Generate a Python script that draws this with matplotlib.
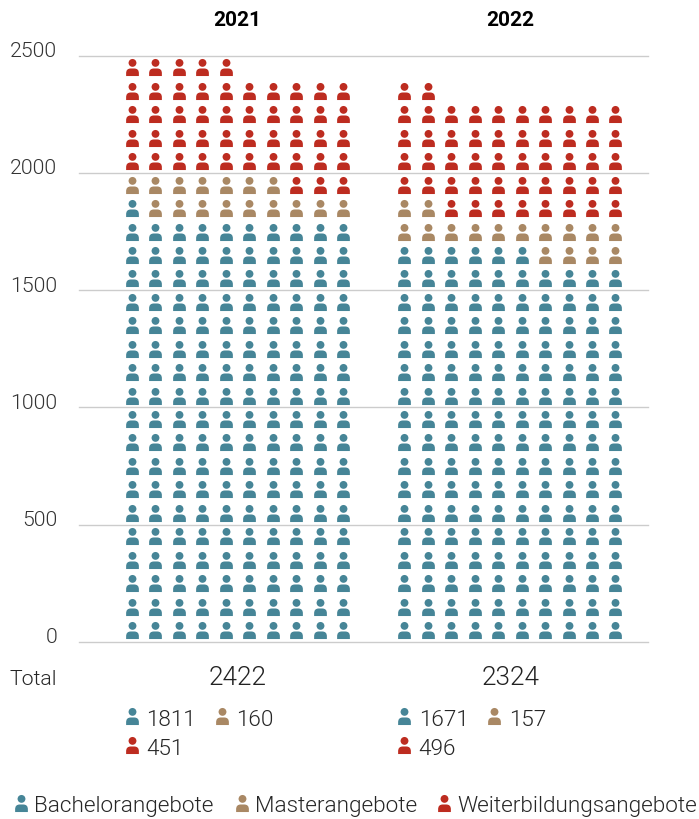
"""
Waffle chart of study offers per year, one person icon per ten offers.
"""

import numpy as np
import matplotlib
matplotlib.use("Agg")
import matplotlib.pyplot as plt
from matplotlib.path import Path
from matplotlib.markers import MarkerStyle
from matplotlib.transforms import ScaledTranslation

plt.rcParams["font.family"] = ["Roboto", "DejaVu Sans"]

# ============================================================
#  Data
# ============================================================

years = ["2021", "2022"]
categories = ["Bachelorangebote", "Masterangebote", "Weiterbildungsangebote"]
colors = ["#468597", "#A98864", "#BD2C20"]

totals = [2422, 2324]
values_2021 = [1811, 160, 451]
values_2022 = [1671, 157, 496]

# icons actually drawn per category (as counted in the picture)
icons_2021 = [181, 16, 48]
icons_2022 = [166, 16, 50]

y_ticks = [0, 500, 1000, 1500, 2000, 2500]

UNITS_PER_ICON = 10
ICONS_PER_ROW = 10

TEXT_COLOR = "#262626"
GRID_COLOR = "#cccccc"
LIGHT = 300

# ============================================================
#  Layout, in pixels of the 699x820 picture
# ============================================================

AX_LEFT, AX_RIGHT = 79, 647.5
AX_TOP, AX_BOTTOM = 56.7, 642.7
COL_STEP = 23.45
FIRST_COL = [132.0, 404.4]
ICON_SIZE = 151


def person_marker():
    # head + body, body has rounded shoulders and a flat bottom
    head = Path.circle((0, 0.54), 0.46)
    w, top, bottom, r = 0.747, -0.115, -1.0, 0.55
    body = Path(
        [(-w, bottom), (-w, top - r), (-w, top), (-w + r, top),
         (w - r, top), (w, top), (w, top - r), (w, bottom), (-w, bottom)],
        [Path.MOVETO, Path.LINETO, Path.CURVE3, Path.CURVE3,
         Path.LINETO, Path.CURVE3, Path.CURVE3, Path.LINETO, Path.CLOSEPOLY],
    )
    return MarkerStyle(Path.make_compound_path(head, body))


PERSON = person_marker()


def draw_waffle(ax, first_col, icon_counts):
    start = 0
    for count, color in zip(icon_counts, colors):
        idx = np.arange(start, start + count)
        rows, cols = np.divmod(idx, ICONS_PER_ROW)
        ax.scatter(first_col + cols * COL_STEP,
                   (rows + 0.5) * ICONS_PER_ROW * UNITS_PER_ICON,
                   marker=PERSON, s=ICON_SIZE, color=color,
                   linewidths=0, zorder=3, clip_on=False)
        start += count


fig = plt.figure(figsize=(6.99, 8.20), dpi=100)

ax = fig.add_axes([AX_LEFT / 699, (820 - AX_BOTTOM) / 820,
                   (AX_RIGHT - AX_LEFT) / 699, (AX_BOTTOM - AX_TOP) / 820])
ax.set_xlim(AX_LEFT, AX_RIGHT)
ax.set_ylim(y_ticks[0], y_ticks[-1])
ax.set_xticks([])
ax.set_yticks(y_ticks)
ax.set_yticklabels([str(t) for t in y_ticks], fontsize=15.3, fontweight=LIGHT,
                   color="#333333")
ax.tick_params(axis="y", length=0, pad=15.8)
ax.grid(True, axis="y", color=GRID_COLOR, linewidth=1.0, zorder=0, clip_on=False)
ax.set_axisbelow(True)
for spine in ax.spines.values():
    spine.set_visible(False)

# labels sit a bit above their grid line
shift = ScaledTranslation(0, 7 / 100, fig.dpi_scale_trans)
for label in ax.get_yticklabels():
    label.set_transform(label.get_transform() + shift)

draw_waffle(ax, FIRST_COL[0], icons_2021)
draw_waffle(ax, FIRST_COL[1], icons_2022)

# overlay in picture pixels for the texts and the keys below the chart
over = fig.add_axes([0, 0, 1, 1])
over.set_xlim(0, 699)
over.set_ylim(820, 0)
over.axis("off")
over.patch.set_alpha(0)

for year, total, cx in zip(years, totals, [237, 510]):
    over.text(cx, 26, year, ha="center", va="baseline", fontsize=15,
              fontweight="bold", color="black")
    over.text(cx + 1, 685, str(total), ha="center", va="baseline", fontsize=18.8,
              fontweight=LIGHT, color="#222222")

over.text(57, 685, "Total", ha="right", va="baseline", fontsize=15.3,
          fontweight=LIGHT, color=TEXT_COLOR)

# per year key: two on the first line, one on the second
key_slots = [(0, 717, 726), (90, 717, 726), (0, 746.3, 755)]
for first_col, values in zip(FIRST_COL, [values_2021, values_2022]):
    for value, color, (dx, y_icon, y_text) in zip(values, colors, key_slots):
        over.scatter(first_col + dx, y_icon, marker=PERSON, s=ICON_SIZE,
                     color=color, linewidths=0)
        over.text(first_col + dx + 14.2, y_text, str(value), ha="left",
                  va="baseline", fontsize=16.2, fontweight=LIGHT,
                  color=TEXT_COLOR)

# bottom legend
legend_icon_x = [20.5, 241.5, 444]
for name, color, x in zip(categories, colors, legend_icon_x):
    over.scatter(x, 804, marker=PERSON, s=ICON_SIZE, color=color, linewidths=0)
    over.text(x + 13.5, 811.7, name, ha="left", va="baseline", fontsize=16.2,
              fontweight=LIGHT, color=TEXT_COLOR)

fig.savefig("out.png", dpi=100)
plt.close(fig)
